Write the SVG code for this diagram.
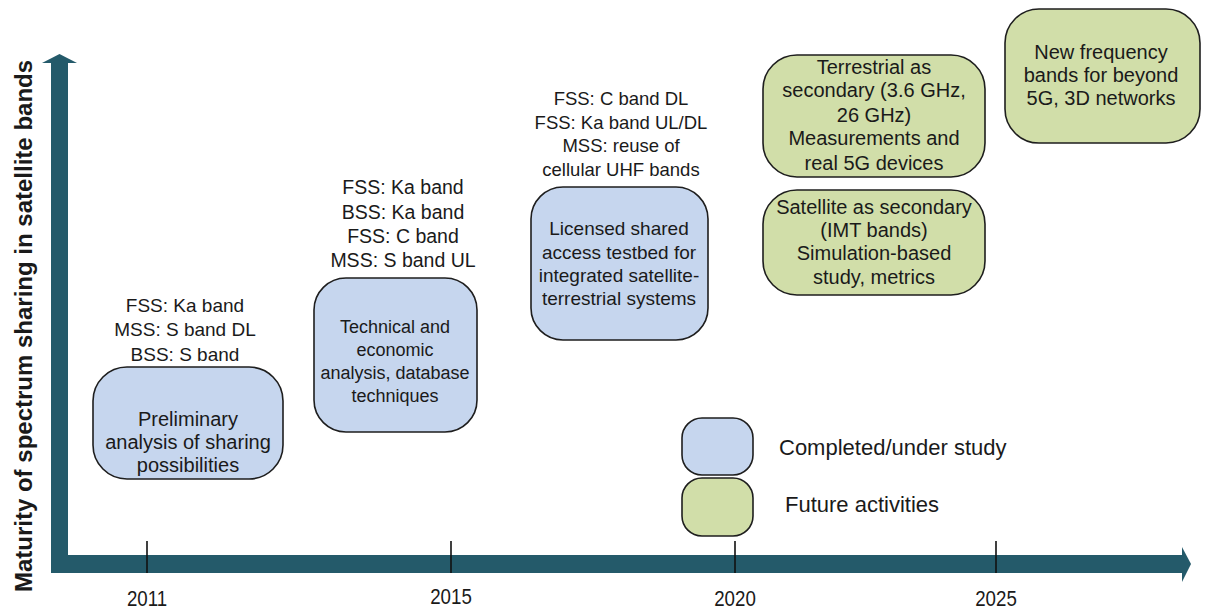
<svg xmlns="http://www.w3.org/2000/svg" width="1206" height="609" viewBox="0 0 1206 609">
<style>
.t{font-family:"Liberation Sans",Arial,sans-serif;font-size:20px;fill:#1a1a1a;text-anchor:middle}
.l{font-family:"Liberation Sans",Arial,sans-serif;font-size:19px;fill:#1a1a1a;text-anchor:middle}
.lg{font-family:"Liberation Sans",Arial,sans-serif;font-size:22px;fill:#1a1a1a}
.yr{font-family:"Liberation Sans",Arial,sans-serif;font-size:22px;fill:#1a1a1a;text-anchor:middle}
.blue{fill:#c6d6ee;stroke:#1e1e1e;stroke-width:1.6}
.green{fill:#d1dea9;stroke:#1e1e1e;stroke-width:1.6}
.axis{fill:#245a6a}
.tick{stroke:#111;stroke-width:1.6}
</style>
<rect width="1206" height="609" fill="#fff"/>
<g id="axes">
<rect class="axis" x="51" y="62" width="17" height="511"/>
<polygon class="axis" points="42,63 59.5,54 77,63"/>
<rect class="axis" x="51" y="555" width="1132" height="18"/>
<polygon class="axis" points="1182,547 1191,564 1182,582"/>
<line class="tick" x1="147" y1="541" x2="147" y2="573"/>
<line class="tick" x1="451" y1="541" x2="451" y2="573"/>
<line class="tick" x1="735" y1="541" x2="735" y2="573"/>
<line class="tick" x1="996" y1="541" x2="996" y2="573"/>
<text class="yr" transform="translate(147,606) scale(0.85,1)">2011</text>
<text class="yr" transform="translate(451,604) scale(0.85,1)">2015</text>
<text class="yr" transform="translate(735,606) scale(0.85,1)">2020</text>
<text class="yr" transform="translate(996,606) scale(0.85,1)">2025</text>
<text transform="translate(32,326) rotate(-90)" style="font-family:'Liberation Sans',Arial,sans-serif;font-size:24px;font-weight:bold;fill:#1a1a1a;text-anchor:middle">Maturity of spectrum sharing in satellite bands</text>
</g>
<g id="node-2011">
<text class="l" x="185" y="312">FSS: Ka band</text>
<text class="l" x="185" y="336">MSS: S band DL</text>
<text class="l" x="185" y="361">BSS: S band</text>
<rect class="blue" x="93" y="367" width="190" height="112" rx="34"/>
<text class="t" x="188" y="426">Preliminary</text>
<text class="t" x="188" y="449">analysis of sharing</text>
<text class="t" x="188" y="472">possibilities</text>
</g>
<g id="node-2015">
<text class="l" x="403" y="194" style="font-size:19.5px">FSS: Ka band</text>
<text class="l" x="403" y="219" style="font-size:19.5px">BSS: Ka band</text>
<text class="l" x="403" y="243" style="font-size:19.5px">FSS: C band</text>
<text class="l" x="403" y="267" style="font-size:19.5px">MSS: S band UL</text>
<rect class="blue" x="314" y="278" width="163" height="154" rx="32"/>
<text class="t" x="395" y="333" style="font-size:18px">Technical and</text>
<text class="t" x="395" y="356" style="font-size:18px">economic</text>
<text class="t" x="395" y="379" style="font-size:18px">analysis, database</text>
<text class="t" x="395" y="402" style="font-size:18px">techniques</text>
</g>
<g id="node-lsa">
<text class="l" x="621" y="105" style="font-size:18.5px">FSS: C band DL</text>
<text class="l" x="621" y="128.5" style="font-size:18.5px">FSS: Ka band UL/DL</text>
<text class="l" x="621" y="152" style="font-size:18.5px">MSS: reuse of</text>
<text class="l" x="621" y="175.5" style="font-size:18.5px">cellular UHF bands</text>
<rect class="blue" x="531" y="187" width="177" height="153" rx="32"/>
<text class="t" x="619" y="235" style="font-size:19px">Licensed shared</text>
<text class="t" x="619" y="259" style="font-size:19px">access testbed for</text>
<text class="t" x="619" y="282" style="font-size:19px">integrated satellite-</text>
<text class="t" x="619" y="305" style="font-size:19px">terrestrial systems</text>
</g>
<g id="node-terrestrial">
<rect class="green" x="763" y="55" width="222" height="122" rx="34"/>
<text class="t" x="874" y="74">Terrestrial as</text>
<text class="t" x="874" y="97">secondary (3.6 GHz,</text>
<text class="t" x="874" y="122">26 GHz)</text>
<text class="t" x="874" y="145">Measurements and</text>
<text class="t" x="874" y="170">real 5G devices</text>
</g>
<g id="node-satellite">
<rect class="green" x="763" y="190" width="222" height="105" rx="34"/>
<text class="t" x="874" y="214">Satellite as secondary</text>
<text class="t" x="874" y="237">(IMT bands)</text>
<text class="t" x="874" y="260">Simulation-based</text>
<text class="t" x="874" y="284">study, metrics</text>
</g>
<g id="node-beyond5g">
<rect class="green" x="1005" y="9" width="195" height="134" rx="34"/>
<text class="t" x="1101" y="59">New frequency</text>
<text class="t" x="1101" y="82">bands for beyond</text>
<text class="t" x="1101" y="105">5G, 3D networks</text>
</g>
<g id="legend">
<rect class="blue" x="682" y="418" width="71" height="57" rx="20"/>
<rect class="green" x="682" y="478" width="71" height="58" rx="20"/>
<text class="lg" x="779" y="455">Completed/under study</text>
<text class="lg" x="785" y="512">Future activities</text>
</g>
<g id="connectors"></g>
</svg>
